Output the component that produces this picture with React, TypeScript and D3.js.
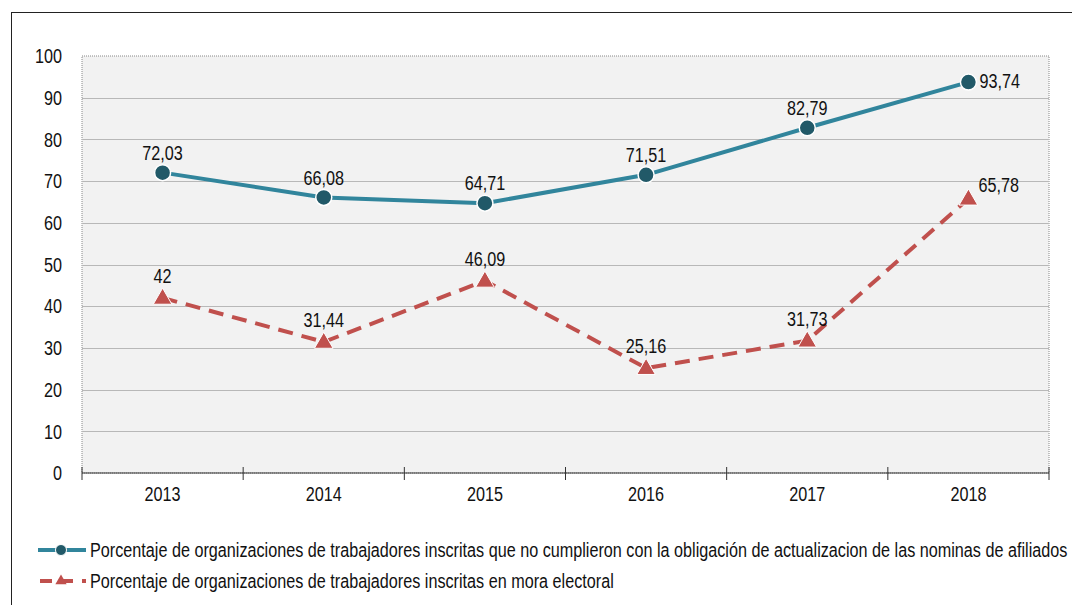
import { scaleBand, scaleLinear, line, symbol, symbolTriangle } from "d3";

const years = ["2013", "2014", "2015", "2016", "2017", "2018"];
const nominas = [72.03, 66.08, 64.71, 71.51, 82.79, 93.74];
const mora = [42, 31.44, 46.09, 25.16, 31.73, 65.78];
const yTicks = [0, 10, 20, 30, 40, 50, 60, 70, 80, 90, 100];
const legendLabels = [
  "Porcentaje de organizaciones de trabajadores inscritas que no cumplieron con la obligación de actualizacion de las nominas de afiliados",
  "Porcentaje de organizaciones de trabajadores inscritas en mora electoral",
];

const FONT = "'Liberation Sans', Arial, sans-serif";
const FS = 20;
const SX = 0.81; // Arial Narrow look-alike
const TEAL = "#31859c";
const TEAL_DARK = "#215968";
const RED = "#c0504d";

const fmt = (v: number) => String(v).replace(".", ",");

// condensed text: Liberation Sans squeezed horizontally
function NText({ x, y, anchor = "start", children }: { x: number; y: number; anchor?: string; children: any }) {
  return (
    <g transform={`translate(${x},${y}) scale(${SX},1)`}>
      <text dy="0.36em" textAnchor={anchor} fontSize={FS} fill="#111">
        {children}
      </text>
    </g>
  );
}

export default function App() {
  const W = 1072;
  const H = 605;
  const plot = { left: 82, right: 1049, top: 56, bottom: 473 };

  const x = scaleBand<string>().domain(years).range([plot.left, plot.right]);
  const y = scaleLinear().domain([0, 100]).range([plot.bottom, plot.top]);
  const cx = (d: string) => (x(d) ?? 0) + x.bandwidth() / 2;

  const path = line<number>()
    .x((_, i) => cx(years[i]))
    .y((v) => y(v));

  const tri = symbol().type(symbolTriangle).size(150)();
  const triSmall = symbol().type(symbolTriangle).size(55)();

  const boundaries = [...years.map((d) => x(d) ?? 0), plot.right];

  return (
    <svg
      width={W}
      height={H}
      style={{ position: "absolute", left: 0, top: 0 }}
      fontFamily={FONT}
    >
      <rect width={W} height={H} fill="#fff" />
      <rect x={11.5} y={12.5} width={W} height={H} fill="none" stroke="#222" strokeWidth={1} />

      {/* plot area */}
      <rect
        x={plot.left}
        y={plot.top}
        width={plot.right - plot.left}
        height={plot.bottom - plot.top}
        fill="#f2f2f2"
        stroke="#888"
        strokeWidth={1}
        strokeDasharray="1,1"
      />
      {yTicks.slice(1, -1).map((t) => (
        <line
          key={t}
          x1={plot.left}
          x2={plot.right}
          y1={Math.round(y(t)) + 0.5}
          y2={Math.round(y(t)) + 0.5}
          stroke="#b8b8b8"
          strokeWidth={1.2}
        />
      ))}
      {yTicks.map((t) => (
        <NText key={t} x={62} y={y(t)} anchor="end">
          {t}
        </NText>
      ))}

      {/* x axis */}
      <line x1={plot.left} x2={plot.right} y1={plot.bottom} y2={plot.bottom} stroke="#333" strokeWidth={1.2} />
      {boundaries.map((b, i) => (
        <line key={i} x1={b} x2={b} y1={plot.bottom - 6} y2={plot.bottom + 7} stroke="#333" strokeWidth={1} />
      ))}
      {years.map((d) => (
        <NText key={d} x={cx(d)} y={494} anchor="middle">
          {d}
        </NText>
      ))}

      {/* series */}
      <path d={path(nominas) ?? ""} fill="none" stroke={TEAL} strokeWidth={4} strokeLinejoin="round" />
      <path d={path(mora) ?? ""} fill="none" stroke={RED} strokeWidth={4} strokeDasharray="15,9" />
      {nominas.map((v, i) => (
        <circle key={i} cx={cx(years[i])} cy={y(v)} r={8} fill={TEAL_DARK} stroke="#fff" strokeWidth={1.5} />
      ))}
      {mora.map((v, i) => (
        <path
          key={i}
          d={tri ?? ""}
          transform={`translate(${cx(years[i])},${y(v) + 1})`}
          fill={RED}
          stroke="#fff"
          strokeWidth={1}
        />
      ))}

      {/* data labels */}
      {nominas.map((v, i) => {
        const last = i === nominas.length - 1;
        return (
          <NText
            key={i}
            x={last ? cx(years[i]) + 11 : cx(years[i])}
            y={last ? y(v) - 1 : y(v) - 20}
            anchor={last ? "start" : "middle"}
          >
            {fmt(v)}
          </NText>
        );
      })}
      {mora.map((v, i) => {
        const last = i === mora.length - 1;
        return (
          <NText
            key={i}
            x={last ? cx(years[i]) + 10 : cx(years[i])}
            y={last ? y(v) - 14 : y(v) - 22}
            anchor={last ? "start" : "middle"}
          >
            {fmt(v)}
          </NText>
        );
      })}

      {/* legend */}
      <g transform="translate(0,550)">
        <line x1={38} x2={86} y1={0} y2={0} stroke={TEAL} strokeWidth={4} />
        <circle cx={61} cy={0} r={5.5} fill={TEAL_DARK} stroke="#fff" strokeWidth={1} />
      </g>
      <NText x={90} y={550}>{legendLabels[0]}</NText>
      <g transform="translate(0,581)">
        <line x1={38} x2={86} y1={0} y2={0} stroke={RED} strokeWidth={4} strokeDasharray="12,9" strokeDashoffset={-2} />
        <path d={triSmall ?? ""} transform="translate(61,0)" fill={RED} />
      </g>
      <NText x={90} y={581}>{legendLabels[1]}</NText>
    </svg>
  );
}
